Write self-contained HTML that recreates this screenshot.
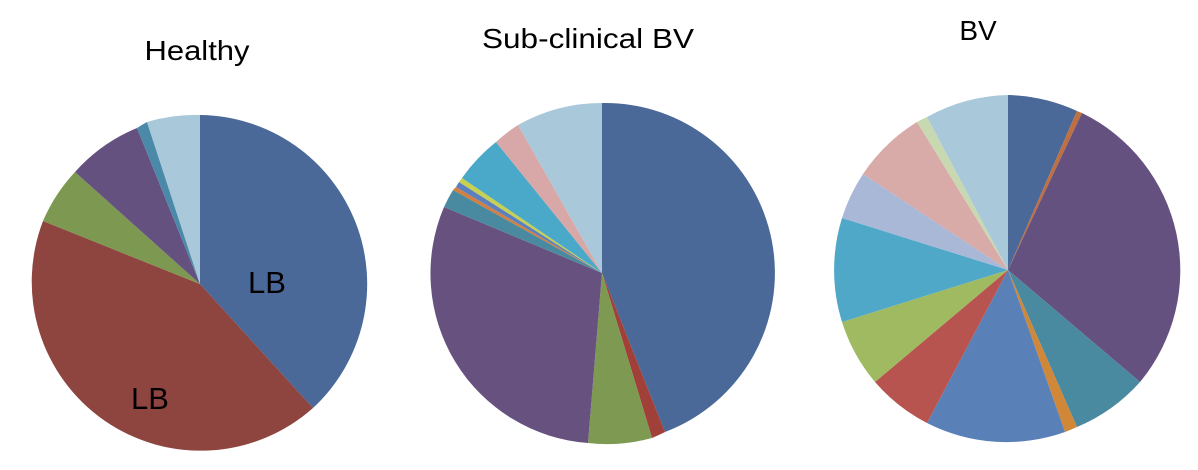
<!DOCTYPE html>
<html><head><meta charset="utf-8"><style>
html,body{margin:0;padding:0;background:#fff;}
svg{display:block;}
text{font-family:"Liberation Sans",sans-serif;fill:#000;}
</style></head><body>
<svg width="1198" height="470" viewBox="0 0 1198 470" xmlns="http://www.w3.org/2000/svg">
<text x="197" y="60" font-size="28" text-anchor="middle" textLength="105" lengthAdjust="spacingAndGlyphs">Healthy</text>
<text x="588" y="48" font-size="28" text-anchor="middle" textLength="212" lengthAdjust="spacingAndGlyphs">Sub-clinical BV</text>
<text x="978" y="40" font-size="28" text-anchor="middle">BV</text>

<g>
<path d="M200,284 L200,115 A169,169 0 0 1 313,408 Z" fill="#4a6898"/>
<path d="M200,284 L313,408 A169,169 0 0 1 43,221 Z" fill="#8f453f"/>
<path d="M200,284 L43,221 A169,169 0 0 1 75,172 Z" fill="#7d9850"/>
<path d="M200,284 L75,172 A169,169 0 0 1 137,128 Z" fill="#65517f"/>
<path d="M200,284 L137,128 A169,169 0 0 1 147,122 Z" fill="#4a8aa8"/>
<path d="M200,284 L147,122 A169,169 0 0 1 200,115 Z" fill="#a9c8da"/>
</g>
<text x="267" y="293" font-size="31" text-anchor="middle">LB</text>
<text x="150" y="409" font-size="31" text-anchor="middle">LB</text>

<g>
<path d="M602,273 L602,103 A170,170 0 0 1 665,432 Z" fill="#4a6898"/>
<path d="M602,273 L665,432 A170,170 0 0 1 652,438 Z" fill="#a04038"/>
<path d="M602,273 L652,438 A170,170 0 0 1 588,443 Z" fill="#7e9a52"/>
<path d="M602,273 L588,443 A170,170 0 0 1 444,207 Z" fill="#66517f"/>
<path d="M602,273 L444,207 A170,170 0 0 1 453,190 Z" fill="#4a8aa0"/>
<path d="M602,273 L453,190 A170,170 0 0 1 456,187 Z" fill="#d08040"/>
<path d="M602,273 L456,187 A170,170 0 0 1 459,182 Z" fill="#5a80c0"/>
<path d="M602,273 L459,182 A170,170 0 0 1 462,178 Z" fill="#c8d050"/>
<path d="M602,273 L462,178 A170,170 0 0 1 496,142 Z" fill="#4aa8c8"/>
<path d="M602,273 L496,142 A170,170 0 0 1 518,125 Z" fill="#d8a8a8"/>
<path d="M602,273 L518,125 A170,170 0 0 1 602,103 Z" fill="#a9c8da"/>
</g>

<g>
<path d="M1008,270 L1008,95 A175,175 0 0 1 1077,111 Z" fill="#4a6898"/>
<path d="M1008,270 L1077,111 A175,175 0 0 1 1082,113 Z" fill="#c07040"/>
<path d="M1008,270 L1082,113 A175,175 0 0 1 1140,382 Z" fill="#65517f"/>
<path d="M1008,270 L1140,382 A175,175 0 0 1 1077,427 Z" fill="#4a8aa0"/>
<path d="M1008,270 L1077,427 A175,175 0 0 1 1065,432 Z" fill="#d08838"/>
<path d="M1008,270 L1065,432 A175,175 0 0 1 927,423 Z" fill="#5a80b8"/>
<path d="M1008,270 L927,423 A175,175 0 0 1 875,382 Z" fill="#b85450"/>
<path d="M1008,270 L875,382 A175,175 0 0 1 842,322 Z" fill="#9fba60"/>
<path d="M1008,270 L842,322 A175,175 0 0 1 842,218 Z" fill="#50a8c8"/>
<path d="M1008,270 L842,218 A175,175 0 0 1 863,174 Z" fill="#aab8d8"/>
<path d="M1008,270 L863,174 A175,175 0 0 1 917,122 Z" fill="#d8aaa8"/>
<path d="M1008,270 L917,122 A175,175 0 0 1 927,117 Z" fill="#c8d8b0"/>
<path d="M1008,270 L927,117 A175,175 0 0 1 1008,95 Z" fill="#a9c8da"/>
</g>
</svg>
</body></html>
